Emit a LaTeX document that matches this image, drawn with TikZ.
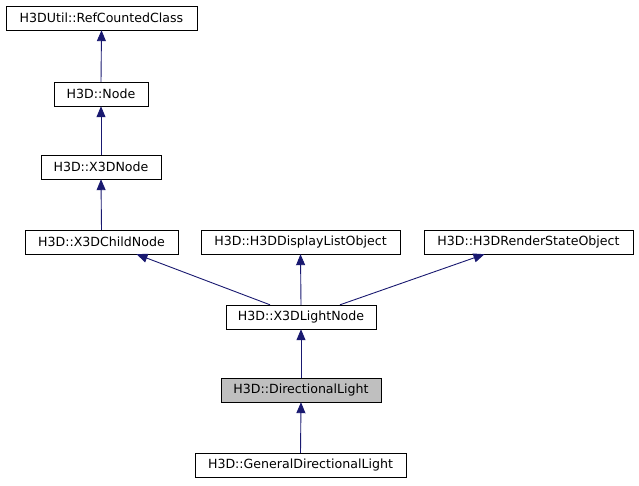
\documentclass[tikz,border=0pt]{standalone}
\usepackage{fontspec}
\setmainfont{DejaVu Sans}
\usetikzlibrary{arrows.meta,calc}
\begin{document}
\begin{tikzpicture}[x=1pt,y=-1pt,
  box/.style={draw=black,fill=white,minimum height=24pt,inner sep=0pt,font=\fontsize{12.6}{15}\selectfont},
  arr/.style={draw={rgb,255:red,25;green,25;blue,112},-{Triangle[length=11pt,width=9pt]},line width=0.9pt}]
\useasboundingbox (0,0) rectangle (639,485);
\node[box,minimum width=191pt] (rc) at (101.5,18) {H3DUtil::RefCountedClass};
\node[box,minimum width=94pt] (nd) at (101,94) {H3D::Node};
\node[box,minimum width=120pt] (x3d) at (101,167) {H3D::X3DNode};
\node[box,minimum width=153pt] (ch) at (101.5,242) {H3D::X3DChildNode};
\node[box,minimum width=199pt] (dl) at (300.5,242) {H3D::H3DDisplayListObject};
\node[box,minimum width=209pt] (rs) at (528.5,242) {H3D::H3DRenderStateObject};
\node[box,minimum width=150pt] (ln) at (301,317) {H3D::X3DLightNode};
\node[box,minimum width=160pt,fill={rgb,255:red,191;green,191;blue,191}] (dir) at (301,390) {H3D::DirectionalLight};
\node[box,minimum width=211pt] (gen) at (300.5,465) {H3D::GeneralDirectionalLight};
\draw[arr] (nd.north) -- (rc.south);
\draw[arr] (x3d.north) -- (nd.south);
\draw[arr] (ch.north) -- (x3d.south);
\draw[arr] ($(ln.north)+(-31,0)$) -- ($(ch.south)+(35,0)$);
\draw[arr] (ln.north) -- (dl.south);
\draw[arr] ($(ln.north)+(39,0)$) -- ($(rs.south)+(-44,0)$);
\draw[arr] (dir.north) -- (ln.south);
\draw[arr] (gen.north) -- (dir.south);
\end{tikzpicture}
\end{document}
